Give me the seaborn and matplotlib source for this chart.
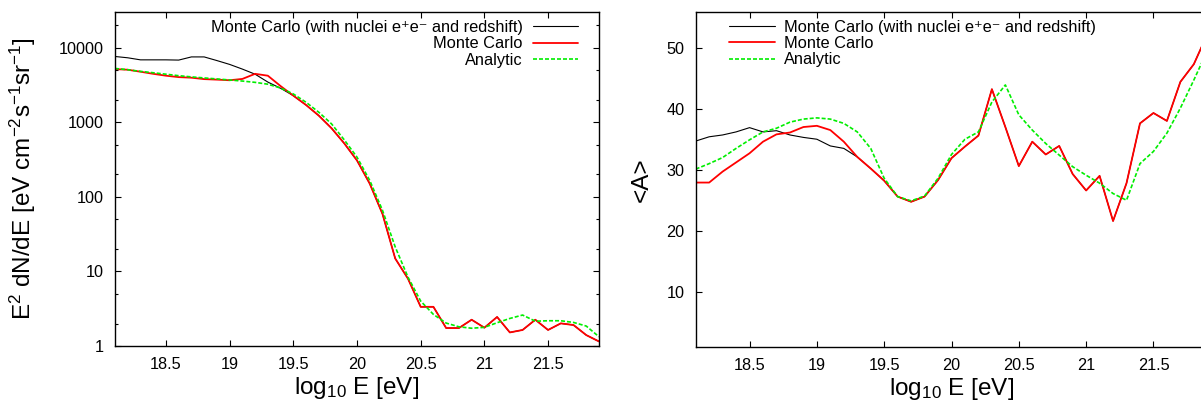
import numpy as np
import pandas as pd
import seaborn as sns
import matplotlib
matplotlib.use("Agg")
import matplotlib.pyplot as plt
from matplotlib.ticker import FixedLocator, FuncFormatter, NullFormatter, LogLocator

# ---------------- data ----------------
LOG_E = [18.1, 18.2, 18.3, 18.4, 18.5, 18.6, 18.7, 18.8, 18.9, 19.0,
         19.1, 19.2, 19.3, 19.4, 19.5, 19.6, 19.7, 19.8, 19.9, 20.0,
         20.1, 20.2, 20.3, 20.4, 20.5, 20.6, 20.7, 20.8, 20.9, 21.0,
         21.1, 21.2, 21.3, 21.4, 21.5, 21.6, 21.7, 21.8, 21.9]

# left panel: E^2 dN/dE
FLUX_MC = [5150, 5050, 4750, 4450, 4200, 4020, 3950, 3780, 3720, 3650,
           3800, 4450, 4200, 3050, 2270, 1700, 1225, 830, 520, 307,
           150, 59, 14.9, 8.0, 3.35, 3.35, 1.74, 1.74, 2.25, 1.76,
           2.45, 1.52, 1.64, 2.25, 1.64, 2.01, 1.91, 1.40, 1.15]
FLUX_MC_FULL = [7600, 7300, 6850, 6850, 6850, 6800, 7500, 7500, 6700, 5950,
                5150, 4400, 3450, 2850, 2270, 1700, 1225, 830, 520, 307,
                150, 59, 14.9, 8.0, 3.35, 3.35, 1.74, 1.74, 2.25, 1.76,
                2.45, 1.52, 1.64, 2.25, 1.64, 2.01, 1.91, 1.40, 1.15]
FLUX_ANALYTIC = [5250, 5050, 4800, 4600, 4400, 4200, 4050, 3920, 3800, 3680,
                 3560, 3420, 3230, 2870, 2390, 1850, 1360, 950, 580, 340,
                 166, 66, 21.3, 8.4, 4.0, 2.65, 2.03, 1.81, 1.73, 1.78,
                 2.05, 2.34, 2.6, 2.15, 2.18, 2.18, 2.07, 1.85, 1.33]

# right panel: <A>
A_MC_FULL = [34.7, 35.4, 35.7, 36.2, 36.9, 36.2, 36.4, 35.7, 35.3, 35.0,
             33.9, 33.5, 32.1, 30.2, 28.2, 25.6, 24.75, 25.6, 28.3, 31.9,
             33.8, 35.6, 43.2, 37.0, 30.6, 34.6, 32.5, 33.9, 29.3, 26.6,
             29.0, 21.6, 27.8, 37.6, 39.3, 38.0, 44.4, 47.3, 52.2]
A_MC = [27.9, 27.9, 29.7, 31.2, 32.7, 34.6, 35.8, 36.1, 37.0, 37.2,
        36.5, 34.6, 32.1, 30.2, 28.2, 25.6, 24.75, 25.6, 28.3, 31.9,
        33.8, 35.6, 43.2, 37.0, 30.6, 34.6, 32.5, 33.9, 29.3, 26.6,
        29.0, 21.6, 27.8, 37.6, 39.3, 38.0, 44.4, 47.3, 52.2]
A_ANALYTIC = [30.1, 31.0, 32.0, 33.5, 34.9, 36.2, 36.8, 37.8, 38.3, 38.5,
              38.3, 37.6, 36.2, 33.5, 28.6, 25.6, 24.9, 25.7, 28.6, 32.5,
              35.0, 36.2, 41.1, 43.9, 39.0, 36.5, 34.3, 32.4, 30.5, 29.1,
              27.8, 26.1, 25.0, 31.0, 33.0, 36.0, 40.1, 44.7, 49.5]

LABELS = ["Monte Carlo (with nuclei e\u207ae\u207b and redshift)",
          "Monte Carlo", "Analytic"]
X_TICKS = [18.5, 19.0, 19.5, 20.0, 20.5, 21.0, 21.5]
FLUX_TICKS = [1, 10, 100, 1000, 10000]
A_TICKS = [10, 20, 30, 40, 50]

# ---------------- style ----------------
sns.set_style("ticks")
plt.rcParams["font.family"] = ["Liberation Sans", "DejaVu Sans"]
plt.rcParams["mathtext.fontset"] = "custom"
plt.rcParams["mathtext.rm"] = "Liberation Sans"
plt.rcParams["mathtext.it"] = "Liberation Sans:italic"
plt.rcParams["mathtext.bf"] = "Liberation Sans:bold"
plt.rcParams["axes.edgecolor"] = "black"
plt.rcParams["axes.linewidth"] = 1.0
for key in ["text.color", "axes.labelcolor", "xtick.color", "ytick.color"]:
    plt.rcParams[key] = "black"

COLORS = ["black", "#ff0000", "#00ee00"]
LWS = [0.8, 1.3, 1.2]
TICK_FS = 11.7
LABEL_FS = 17.5
LEG_FS = 11.8

fig = plt.figure(figsize=(12.01, 4.01), dpi=100)
axL = fig.add_axes([115 / 1201, 55 / 401, 484 / 1201, 334 / 401])
axR = fig.add_axes([695.7 / 1201, 54.3 / 401, 511.6 / 1201, 335 / 401])

gfmt = FuncFormatter(lambda v, p: "%g" % v)

def draw(ax, series):
    for i, (ys, lab) in enumerate(zip(series, LABELS)):
        df = pd.DataFrame({"x": LOG_E, "y": ys})
        sns.lineplot(data=df, x="x", y="y", ax=ax, color=COLORS[i], lw=LWS[i], label=lab)
        if i == 2:
            ax.lines[-1].set_dashes((2.4, 1.2))
    ax.set_xlim(18.1, 21.9)
    ax.xaxis.set_major_locator(FixedLocator(X_TICKS))
    ax.xaxis.set_major_formatter(gfmt)
    ax.tick_params(which="both", direction="in", top=True, right=True,
                   labelsize=TICK_FS, width=0.8, colors="black")
    ax.tick_params(which="major", length=4.5)
    ax.tick_params(which="minor", length=2.5)
    ax.tick_params(axis="x", pad=8)
    ax.tick_params(axis="y", pad=8)
    ax.set_xlabel(r"log$_{10}$ E [eV]", fontsize=LABEL_FS, labelpad=2)

draw(axL, [FLUX_MC_FULL, FLUX_MC, FLUX_ANALYTIC])
axL.set_yscale("log")
axL.set_ylim(1, 30000)
axL.yaxis.set_major_locator(FixedLocator(FLUX_TICKS))
axL.yaxis.set_major_formatter(gfmt)
axL.yaxis.set_minor_locator(LogLocator(base=10, subs=[2, 5]))
axL.yaxis.set_minor_formatter(NullFormatter())
axL.set_ylabel(r"E$^{2}$ dN/dE [eV cm$^{-2}$s$^{-1}$sr$^{-1}$]", fontsize=LABEL_FS, labelpad=15)
legL = axL.legend(loc="upper right", bbox_to_anchor=(0.957, 0.976), markerfirst=False,
                  frameon=False, fontsize=LEG_FS, handlelength=2.75, handletextpad=0.65,
                  labelspacing=0.08, borderpad=0, borderaxespad=0)

draw(axR, [A_MC_FULL, A_MC, A_ANALYTIC])
axR.set_ylim(1, 55.9)
axR.yaxis.set_major_locator(FixedLocator(A_TICKS))
axR.yaxis.set_major_formatter(gfmt)
axR.set_ylabel("<A>", fontsize=LABEL_FS, labelpad=10)
legR = axR.legend(loc="upper left", bbox_to_anchor=(0.066, 0.976), markerfirst=True,
                  frameon=False, fontsize=LEG_FS, handlelength=2.75, handletextpad=0.6,
                  labelspacing=0.08, borderpad=0, borderaxespad=0)

fig.savefig("out.png", dpi=100)
